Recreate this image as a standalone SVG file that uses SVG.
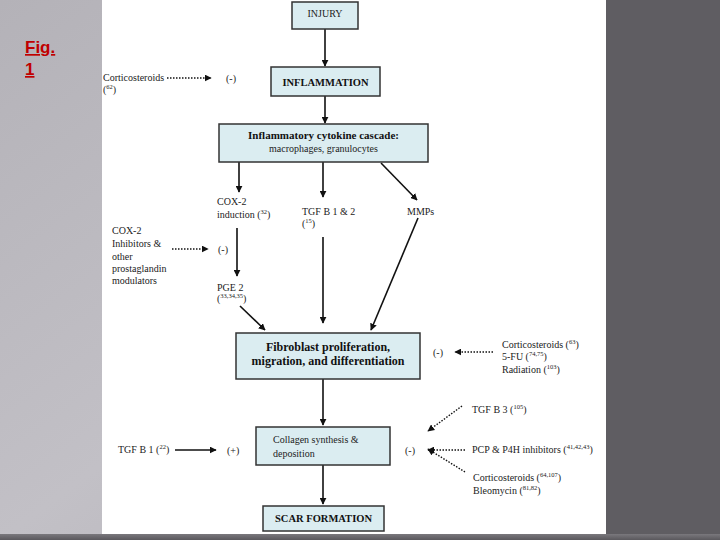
<svg xmlns="http://www.w3.org/2000/svg" width="720" height="540" viewBox="0 0 720 540">
<defs>
<linearGradient id="lg" x1="0" y1="0" x2="1" y2="1"><stop offset="0" stop-color="#b4b2b8"/><stop offset="0.5" stop-color="#c2c0c6"/><stop offset="1" stop-color="#b0aeb4"/></linearGradient>
<linearGradient id="bg" x1="0" y1="0" x2="0" y2="1"><stop offset="0" stop-color="#7a787d"/><stop offset="1" stop-color="#5a585d"/></linearGradient>
<marker id="ah" viewBox="0 0 10 10" refX="9" refY="5" markerWidth="7" markerHeight="7" markerUnits="userSpaceOnUse" orient="auto"><path d="M0,0 L10,5 L0,10 z" fill="#111"/></marker>
</defs>
<style>
.box{fill:#dbedf1;stroke:#333;stroke-width:1.5}
.t{font-family:"Liberation Serif",serif;font-size:10px;fill:#222}
.b{font-family:"Liberation Serif",serif;font-weight:bold;fill:#111}
.s{font-size:6.5px}
.ln{stroke:#111;stroke-width:1.6;fill:none;marker-end:url(#ah)}
.dt{stroke:#111;stroke-width:1.4;stroke-dasharray:1.5 1.5;fill:none;marker-end:url(#ah)}
</style>
<rect x="0" y="0" width="720" height="540" fill="url(#lg)"/>
<rect x="606" y="0" width="114" height="540" fill="#5f5d62"/>
<rect x="102" y="0" width="504" height="534" fill="#ffffff"/>
<rect x="0" y="534" width="720" height="6" fill="url(#bg)"/>
<g id="figlabel">
<text x="25" y="53" font-family="Liberation Sans,sans-serif" font-size="17" font-weight="bold" fill="#c00000" text-decoration="underline">Fig.</text>
<text x="25" y="75" font-family="Liberation Sans,sans-serif" font-size="17" font-weight="bold" fill="#c00000" text-decoration="underline">1</text>
</g>
<g id="connectors">
<line class="ln" x1="325" y1="29" x2="325" y2="66"/>
<line class="ln" x1="325" y1="96" x2="325" y2="123"/>
<line class="ln" x1="239" y1="162" x2="239" y2="192"/>
<line class="ln" x1="323" y1="162" x2="323" y2="197"/>
<line class="ln" x1="381" y1="163" x2="417" y2="200"/>
<line class="ln" x1="237" y1="228" x2="237" y2="276"/>
<line class="ln" x1="240" y1="306" x2="265" y2="330"/>
<line class="ln" x1="323" y1="237" x2="323" y2="323"/>
<line class="ln" x1="418" y1="218" x2="371" y2="330"/>
<line class="ln" x1="323" y1="379" x2="323" y2="425"/>
<line class="ln" x1="323" y1="465" x2="323" y2="504"/>
<line class="ln" x1="175" y1="450" x2="216" y2="450"/>
<line class="dt" x1="167" y1="78" x2="211" y2="78"/>
<line class="dt" x1="172" y1="249" x2="208" y2="249"/>
<line class="dt" x1="493" y1="352" x2="455" y2="352"/>
<line class="dt" x1="462" y1="406" x2="428" y2="431"/>
<line class="dt" x1="465" y1="450" x2="428" y2="450"/>
<line class="dt" x1="465" y1="472" x2="428" y2="449"/>
</g>
<g id="injury">
<rect class="box" x="292" y="2" width="66" height="27"/>
<text class="t" x="325" y="17" text-anchor="middle">INJURY</text>
</g>
<g id="inflammation">
<rect class="box" x="271" y="67" width="109" height="29"/>
<text class="b" x="325.5" y="86" font-size="10.5" text-anchor="middle">INFLAMMATION</text>
</g>
<g id="cascade">
<rect class="box" x="219" y="124" width="209" height="38"/>
<text class="b" x="323.5" y="139" font-size="11" text-anchor="middle">Inflammatory cytokine cascade:</text>
<text class="t" x="323.5" y="152" text-anchor="middle">macrophages, granulocytes</text>
</g>
<g id="fibroblast">
<rect class="box" x="236" y="333" width="184" height="46"/>
<text class="b" x="328" y="351" font-size="12" text-anchor="middle">Fibroblast proliferation,</text>
<text class="b" x="328" y="365" font-size="12" text-anchor="middle">migration, and differentiation</text>
</g>
<g id="collagen">
<rect class="box" x="256" y="427" width="134" height="38"/>
<text class="t" x="273" y="443" font-size="11">Collagen synthesis &amp;</text>
<text class="t" x="273" y="457" font-size="11">deposition</text>
</g>
<g id="scar">
<rect class="box" x="263" y="506" width="121" height="25"/>
<text class="b" x="323.5" y="522" font-size="10.5" text-anchor="middle">SCAR FORMATION</text>
</g>
<g id="labels">
<text class="t" x="103" y="81">Corticosteroids</text>
<text class="t" x="103" y="93">(<tspan class="s" dy="-4">62</tspan><tspan dy="4">)</tspan></text>
<text class="t" x="226" y="82">(-)</text>
<text class="t" x="217" y="205">COX-2</text>
<text class="t" x="217" y="218">induction (<tspan class="s" dy="-4">32</tspan><tspan dy="4">)</tspan></text>
<text class="t" x="302" y="215">TGF B 1 &amp; 2</text>
<text class="t" x="302" y="227">(<tspan class="s" dy="-4">15</tspan><tspan dy="4">)</tspan></text>
<text class="t" x="407" y="215">MMPs</text>
<text class="t" x="112" y="234">COX-2</text>
<text class="t" x="112" y="247">Inhibitors &amp;</text>
<text class="t" x="112" y="260">other</text>
<text class="t" x="112" y="272">prostaglandin</text>
<text class="t" x="112" y="284">modulators</text>
<text class="t" x="218" y="253">(-)</text>
<text class="t" x="217" y="291">PGE 2</text>
<text class="t" x="217" y="302">(<tspan class="s" dy="-4">33,34,35</tspan><tspan dy="4">)</tspan></text>
<text class="t" x="433" y="356">(-)</text>
<text class="t" x="502" y="348">Corticosteroids (<tspan class="s" dy="-4">63</tspan><tspan dy="4">)</tspan></text>
<text class="t" x="502" y="360">5-FU (<tspan class="s" dy="-4">74,75</tspan><tspan dy="4">)</tspan></text>
<text class="t" x="502" y="373">Radiation (<tspan class="s" dy="-4">103</tspan><tspan dy="4">)</tspan></text>
<text class="t" x="118" y="453">TGF B 1 (<tspan class="s" dy="-4">22</tspan><tspan dy="4">)</tspan></text>
<text class="t" x="227" y="454">(+)</text>
<text class="t" x="405" y="454">(-)</text>
<text class="t" x="472" y="413">TGF B 3 (<tspan class="s" dy="-4">105</tspan><tspan dy="4">)</tspan></text>
<text class="t" x="472" y="453">PCP &amp; P4H  inhibitors (<tspan class="s" dy="-4">41,42,43</tspan><tspan dy="4">)</tspan></text>
<text class="t" x="473" y="481">Corticosteroids (<tspan class="s" dy="-4">64,107</tspan><tspan dy="4">)</tspan></text>
<text class="t" x="473" y="494">Bleomycin  (<tspan class="s" dy="-4">81,82</tspan><tspan dy="4">)</tspan></text>
</g>
</svg>
